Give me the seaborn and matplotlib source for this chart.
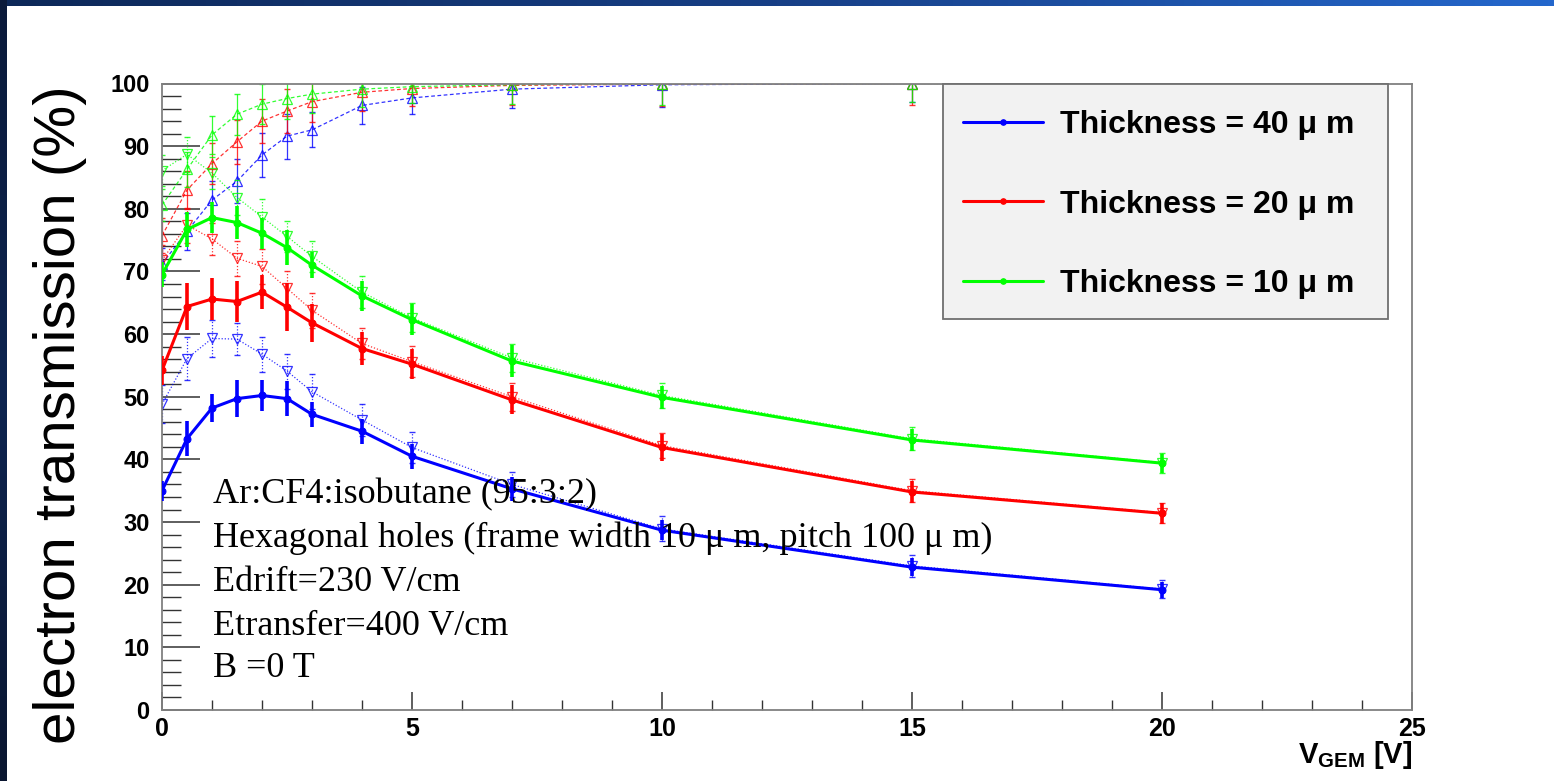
import numpy as np
import pandas as pd
import matplotlib
matplotlib.use("Agg")
import matplotlib.pyplot as plt
from matplotlib.colors import LinearSegmentedColormap
from matplotlib.patches import Rectangle
from matplotlib.ticker import MultipleLocator
import seaborn as sns

# ---------------- data ----------------
v_gem = [0, 0.5, 1, 1.5, 2, 2.5, 3, 4, 5, 7, 10, 15, 20]

thickness_labels = ["Thickness = 40 μ m", "Thickness = 20 μ m", "Thickness = 10 μ m"]
series_colors = ["#0000ff", "#ff0000", "#00ff00"]

# electron transmission (solid lines, filled circles)
trans_40 = [35.0, 43.3, 48.2, 49.7, 50.2, 49.7, 47.2, 44.5, 40.5, 35.3, 28.7, 22.8, 19.2]
trans_40_err = [1.6, 2.8, 2.3, 3.0, 2.4, 2.8, 2.0, 2.0, 2.0, 1.9, 1.6, 1.4, 1.3]
trans_20 = [54.2, 64.4, 65.6, 65.2, 66.7, 64.3, 61.8, 57.7, 55.2, 49.5, 41.9, 34.8, 31.4]
trans_20_err = [2.3, 3.8, 3.3, 3.3, 2.7, 3.8, 3.0, 2.6, 2.4, 2.3, 2.1, 1.8, 1.7]
trans_10 = [69.5, 76.7, 78.6, 77.8, 76.1, 73.8, 71.0, 66.1, 62.3, 55.7, 49.9, 43.1, 39.4]
trans_10_err = [2.0, 2.8, 2.5, 2.7, 2.5, 2.8, 2.1, 2.4, 2.5, 2.5, 1.8, 1.7, 1.5]

# dashed lines, open up-triangles
up_40 = [71.2, 76.4, 81.4, 84.4, 88.6, 91.6, 92.6, 96.5, 97.7, 99.1, 99.8, 100.0, 100.0]
up_40_err = [2.5, 3.0, 3.0, 3.5, 3.5, 3.6, 2.8, 3.0, 2.6, 3.0, 3.5, 3.0, 3.0]
up_20 = [75.7, 83.0, 87.2, 90.7, 94.0, 95.6, 97.1, 98.6, 99.2, 99.7, 99.9, 100.0, 100.0]
up_20_err = [2.8, 3.0, 3.3, 3.5, 3.5, 3.5, 3.3, 3.0, 2.8, 3.2, 3.5, 3.5, 3.0]
up_10 = [80.6, 86.3, 91.8, 95.1, 96.7, 97.6, 98.3, 99.1, 99.5, 99.8, 100.0, 100.0, 100.0]
up_10_err = [2.5, 2.8, 3.0, 3.3, 3.2, 3.2, 3.0, 2.8, 2.6, 3.0, 3.5, 3.0, 2.8]

# dotted lines, open down-triangles
dn_40 = [48.8, 56.1, 59.3, 59.2, 56.8, 54.1, 50.8, 46.3, 41.9, 36.0, 28.9, 23.0, 19.3]
dn_40_err = [3.0, 3.5, 2.9, 2.5, 2.8, 2.8, 2.8, 2.5, 2.5, 2.0, 2.0, 1.8, 1.5]
dn_20 = [71.8, 77.4, 75.2, 72.1, 70.8, 67.3, 63.8, 58.5, 55.6, 50.0, 42.2, 35.0, 31.5]
dn_20_err = [2.5, 2.8, 2.6, 2.8, 2.8, 2.8, 2.8, 2.5, 2.5, 2.2, 2.0, 1.8, 1.6]
dn_10 = [86.1, 88.7, 85.7, 81.8, 78.7, 75.6, 72.4, 66.7, 62.6, 56.2, 50.2, 43.3, 39.5]
dn_10_err = [2.5, 2.8, 2.5, 2.8, 2.8, 2.5, 2.5, 2.5, 2.3, 2.2, 2.0, 1.8, 1.6]

annotation_lines = [
    "Ar:CF4:isobutane (95:3:2)",
    "Hexagonal holes (frame width 10 μ m, pitch 100 μ m)",
    "Edrift=230 V/cm",
    "Etransfer=400 V/cm",
    "B =0 T",
]
x_ticks = [0, 5, 10, 15, 20, 25]
y_ticks = [0, 10, 20, 30, 40, 50, 60, 70, 80, 90, 100]

# ---------------- style ----------------
sns.set_style("white")
plt.rcParams["font.family"] = ["Liberation Sans", "DejaVu Sans"]
plt.rcParams["mathtext.fontset"] = "custom"
plt.rcParams["mathtext.bf"] = "Liberation Sans:bold"
plt.rcParams["mathtext.rm"] = "Liberation Sans"
plt.rcParams["text.color"] = "black"
plt.rcParams["axes.labelcolor"] = "black"
plt.rcParams["xtick.color"] = "black"
plt.rcParams["ytick.color"] = "black"

W, H = 1554, 781
fig = plt.figure(figsize=(W / 100, H / 100), dpi=100)
fig.patch.set_facecolor("white")

# slide decoration: top and left dark-blue bands
cmap_top = LinearSegmentedColormap.from_list("top", ["#0d2858", "#173f86", "#2467cc"])
ax_top = fig.add_axes([0, 1 - 6 / H, 1, 6 / H])
ax_top.imshow(np.linspace(0, 1, 256)[None, :], aspect="auto", cmap=cmap_top)
ax_top.axis("off")
cmap_left = LinearSegmentedColormap.from_list("left", ["#0a1a3a", "#0d2450", "#0a1630"])
ax_left = fig.add_axes([0, 0, 7 / W, 1])
ax_left.imshow(np.linspace(0, 1, 256)[:, None], aspect="auto", cmap=cmap_left)
ax_left.axis("off")

ax = fig.add_axes([162 / W, (H - 710) / H, 1250 / W, 626.5 / H])
ax.set_facecolor("white")

main_sets = [(trans_40, trans_40_err), (trans_20, trans_20_err), (trans_10, trans_10_err)]
up_sets = [(up_40, up_40_err), (up_20, up_20_err), (up_10, up_10_err)]
dn_sets = [(dn_40, dn_40_err), (dn_20, dn_20_err), (dn_10, dn_10_err)]

x_arr = np.array(v_gem)

# dashed (up triangles)
for (vals, errs), col in zip(up_sets, series_colors):
    ax.errorbar(x_arr, vals, yerr=errs, fmt="none", ecolor=col, elinewidth=0.9,
                capsize=2, alpha=0.8, linestyle="--", zorder=2)
    sns.lineplot(x=x_arr, y=vals, ax=ax, color=col, lw=0.9, alpha=0.8,
                 marker="^", markersize=7, markerfacecolor="none",
                 markeredgecolor=col, markeredgewidth=0.9, zorder=2)
    ax.lines[-1].set_dashes((3, 2))

# dotted (down triangles)
for (vals, errs), col in zip(dn_sets, series_colors):
    eb = ax.errorbar(x_arr, vals, yerr=errs, fmt="none", ecolor=col, elinewidth=0.9,
                     capsize=2, alpha=0.8, zorder=2)
    for lc in eb[2]:
        lc.set_linestyle((0, (1, 1.5)))
    sns.lineplot(x=x_arr, y=vals, ax=ax, color=col, lw=0.9, alpha=0.8,
                 marker="v", markersize=7, markerfacecolor="none",
                 markeredgecolor=col, markeredgewidth=0.9, zorder=2)
    ax.lines[-1].set_linestyle((0, (1, 1.5)))

# solid main series
handles = []
for (vals, errs), col, lab in zip(main_sets, series_colors, thickness_labels):
    ax.errorbar(x_arr, vals, yerr=errs, fmt="none", ecolor=col, elinewidth=2.6, zorder=3)
    sns.lineplot(x=x_arr, y=vals, ax=ax, color=col, lw=2.2, marker="o",
                 markersize=5, markeredgecolor=col, markerfacecolor=col, zorder=4,
                 label=lab)
    handles.append(ax.lines[-1])

# axes limits & ticks
ax.set_xlim(0, 25)
ax.set_ylim(0, 100)
ax.set_xticks(x_ticks)
ax.set_yticks(y_ticks)
ax.xaxis.set_minor_locator(MultipleLocator(1))
ax.yaxis.set_minor_locator(MultipleLocator(2))
ax.tick_params(which="both", bottom=True, left=True, top=False, right=False)
ax.tick_params(axis="y", which="major", direction="in", length=27, width=1.1,
               color="#333333", labelcolor="black", labelsize=17, pad=9)
ax.tick_params(axis="y", which="minor", direction="in", length=13.5, width=1.0,
               color="#333333")
ax.tick_params(axis="x", which="major", direction="in", length=13, width=1.1,
               color="#333333", labelcolor="black", labelsize=18, pad=5)
ax.tick_params(axis="x", which="minor", direction="in", length=7, width=1.0,
               color="#333333")
for lbl in ax.get_xticklabels() + ax.get_yticklabels():
    lbl.set_fontweight("bold")
for sp in ax.spines.values():
    sp.set_color("#808080")
    sp.set_linewidth(1.3)
    sp.set_visible(True)

# axis labels
ax.set_xlabel(r"$\mathbf{V}_{\mathbf{GEM}}$ [V]", fontsize=21, fontweight="bold",
              ha="right", va="center", color="black")
ax.xaxis.set_label_coords(1.0, -0.072)
ax.set_ylabel("electron transmission (%)", fontsize=42, va="center", color="black")
ax.yaxis.set_label_coords(-0.0816, 0.471)

# legend with grey box
ax.add_patch(Rectangle((0.6248, 0.6246), 0.3562, 0.3754, transform=ax.transAxes,
                       facecolor="#f2f2f2", edgecolor="#707070", lw=1.3, zorder=5,
                       clip_on=False))
leg = ax.legend(handles=handles, labels=thickness_labels, loc="upper left",
                bbox_to_anchor=(0.6248, 1.0 - 7 / 626.5), frameon=False,
                prop={"family": "Liberation Sans", "weight": "bold", "size": 23},
                handlelength=2.5, handletextpad=0.55, labelspacing=1.54,
                borderpad=0.62, borderaxespad=0.0, numpoints=1, labelcolor="black")
leg.set_zorder(6)
for lh in leg.legend_handles:
    lh.set_markersize(4)

# annotation text block
y_pos = [0.3440, 0.2738, 0.2036, 0.1334, 0.0663]
for txt, yp in zip(annotation_lines, y_pos):
    ax.text(0.0408, yp, txt, transform=ax.transAxes, fontsize=26, color="black",
            family="Liberation Serif", ha="left", va="center", zorder=7)

fig.savefig("out.png", dpi=100)
